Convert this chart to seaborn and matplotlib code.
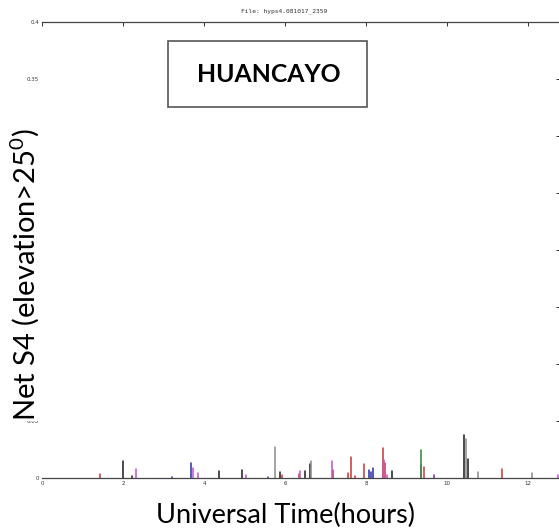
import numpy as np
import pandas as pd
import matplotlib
matplotlib.use("Agg")
import matplotlib.pyplot as plt
import seaborn as sns
from matplotlib.patches import Rectangle

# S4 scintillation spikes per satellite trace (time in UT hours, net S4)
black_t = [2.01, 2.23, 4.37, 4.93, 5.88, 6.50, 6.61, 8.64, 10.42, 10.51]
black_v = [0.0150, 0.0020, 0.0060, 0.0067, 0.0053, 0.0062, 0.0120, 0.0060, 0.0380, 0.0170]

grey_t = [5.76, 6.63, 9.35, 10.48, 10.77, 12.10]
grey_v = [0.0276, 0.0153, 0.0110, 0.0340, 0.0055, 0.0045]

red_t = [1.42, 5.92, 6.34, 7.18, 7.55, 7.64, 7.72, 7.95, 8.41, 8.46, 9.42, 11.37]
red_v = [0.0035, 0.0025, 0.0035, 0.0070, 0.0045, 0.0184, 0.0020, 0.0123, 0.0263, 0.0130, 0.0095, 0.0080]

magenta_t = [2.33, 3.72, 3.86, 5.04, 6.37, 7.16, 8.44, 8.51, 12.74]
magenta_v = [0.0080, 0.0090, 0.0044, 0.0030, 0.0065, 0.0153, 0.0160, 0.0025, 0.0025]

blue_t = [3.20, 3.68, 8.08, 8.12, 8.18]
blue_v = [0.0010, 0.0135, 0.0070, 0.0050, 0.0085]

green_t = [9.37]
green_v = [0.0246]

purple_t = [5.57, 9.68]
purple_v = [0.0012, 0.0022]

series = {
    "black": (black_t, black_v),
    "grey": (grey_t, grey_v),
    "red": (red_t, red_v),
    "magenta": (magenta_t, magenta_v),
    "blue": (blue_t, blue_v),
    "green": (green_t, green_v),
    "purple": (purple_t, purple_v),
}
palette = {
    "black": "#1a1a1a",
    "grey": "#8a8a8a",
    "red": "#cc3333",
    "magenta": "#bb55cc",
    "blue": "#2a2aa8",
    "green": "#2f7f3a",
    "purple": "#6a2a8a",
}

x_ticks = [0, 2, 4, 6, 8, 10, 12]
x_labels = ["0", "2", "4", "6", "8", "10", "12"]
y_ticks = [0, 0.05, 0.1, 0.15, 0.2, 0.25, 0.3, 0.35, 0.4]
y_labels = ["0", "0.05", "0.1", "0.15", "0.2", "0.25", "0.3", "0.35", "0.4"]

# Each spike is a vertical segment from 0 up to its S4 value
rows = []
uid = 0
for sat, (ts, vs) in series.items():
    for t, v in zip(ts, vs):
        rows.append({"t": t, "s4": 0.0, "sat": sat, "spike": uid})
        rows.append({"t": t, "s4": v, "sat": sat, "spike": uid})
        uid += 1
df = pd.DataFrame(rows)

sns.set_theme(style="white")
plt.rcParams["mathtext.default"] = "regular"

fig = plt.figure(figsize=(5.59, 5.32), dpi=100)
ax = fig.add_axes([42 / 559, (532 - 478) / 532, (560 - 42) / 559, (478 - 21.5) / 532])

sns.lineplot(data=df, x="t", y="s4", hue="sat", units="spike", estimator=None,
             sort=False, palette=palette, linewidth=1.1, legend=False, ax=ax)

ax.set_xlim(0, (560 - 42) / 40.5)
ax.set_ylim(0, 0.4)
ax.set_xticks(x_ticks)
ax.set_xticklabels(x_labels)
ax.set_yticks(y_ticks)
ax.set_yticklabels(y_labels)
ax.tick_params(axis="both", direction="in", length=3, width=0.7, color="#333333",
               labelsize=4, pad=2, top=True, right=True, labelcolor="#333333")
for side in ["top", "bottom", "right"]:
    ax.spines[side].set_color("#444444")
    ax.spines[side].set_linewidth(0.9)
ax.spines["left"].set_visible(False)
ax.set_xlabel("")
ax.set_ylabel("")

# Data file name above the plot
fig.text(284 / 559, (532 - 11) / 532, "File: hyps4.081017_2359", fontsize=4.5,
         ha="center", va="center", color="#333333", family="DejaVu Sans Mono")

# Station label box
fig.patches.append(Rectangle((168 / 559, (532 - 107) / 532), (367 - 168) / 559, (107 - 41) / 532,
                             transform=fig.transFigure, facecolor="white",
                             edgecolor="#555555", linewidth=1.2))
fig.text(269 / 559, (532 - 74.5) / 532, "HUANCAYO", family="Lato", fontweight="bold",
         fontsize=17.8, ha="center", va="center", color="black")

fig.text(285 / 559, (532 - 515) / 532, "Universal Time(hours)", family="Lato",
         fontsize=19.5, ha="center", va="center", color="black")
fig.text(25 / 559, (532 - 275) / 532, "Net S4 (elevation>25$^{0}$)", family="Lato",
         fontsize=21, ha="center", va="center", rotation=90, color="black",
         bbox=dict(facecolor="white", edgecolor="none", pad=0))

fig.savefig("out.png", dpi=100)
